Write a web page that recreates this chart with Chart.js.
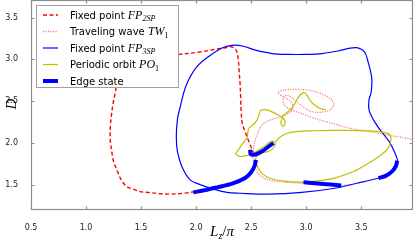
<!DOCTYPE html>
<html>
<head>
<meta charset="utf-8">
<script src="https://cdn.jsdelivr.net/npm/chart.js@4.4.0/dist/chart.umd.min.js"></script>
<style>
  html, body { margin: 0; padding: 0; background: #fff; }
</style>
</head>
<body>
<canvas id="edge_chart" width="415" height="241"></canvas>
<script>
// values, x = Lz/pi, y = D

// fixed point FP_2SP (red dashed)
const fp2spX = [1.99, 1.915, 1.78, 1.67, 1.565, 1.49, 1.43, 1.37, 1.32, 1.28, 1.25, 1.235, 1.22, 1.22, 1.23, 1.245, 1.265, 1.285, 1.32, 1.38, 1.49, 1.67, 1.84, 2.04, 2.17, 2.27, 2.32, 2.36, 2.38, 2.39, 2.40, 2.405, 2.41, 2.42, 2.445, 2.48, 2.52];
const fp2spY = [1.42, 1.405, 1.39, 1.395, 1.41, 1.42, 1.45, 1.48, 1.56, 1.68, 1.78, 1.885, 2.04, 2.18, 2.325, 2.47, 2.595, 2.75, 2.87, 2.98, 3.03, 3.05, 3.06, 3.09, 3.12, 3.14, 3.15, 3.12, 3.03, 2.87, 2.69, 2.515, 2.36, 2.23, 2.135, 2.015, 1.885];

// traveling wave TW_1 (light red dotted)
const tw1X = [3.40, 3.32, 3.17, 3.04, 2.90, 2.78, 2.67, 2.60, 2.555, 2.53, 2.515, 2.52, 2.535, 2.56, 2.595, 2.655, 2.73, 2.80, 2.865, 2.88, 2.845, 2.79, 2.745, 2.765, 2.835, 2.945, 3.055, 3.145, 3.22, 3.25, 3.22, 3.145, 3.055, 2.98, 2.91, 2.845, 2.80, 2.79, 2.82, 2.88, 2.965, 3.055, 3.165, 3.28, 3.42, 3.565, 3.72, 3.855, 4.0];
const tw1Y = [1.505, 1.49, 1.505, 1.515, 1.525, 1.535, 1.555, 1.595, 1.65, 1.74, 1.84, 1.93, 2.03, 2.12, 2.21, 2.265, 2.30, 2.33, 2.38, 2.445, 2.51, 2.555, 2.595, 2.625, 2.64, 2.64, 2.625, 2.585, 2.53, 2.46, 2.40, 2.37, 2.375, 2.425, 2.50, 2.565, 2.565, 2.49, 2.43, 2.39, 2.35, 2.305, 2.26, 2.22, 2.17, 2.14, 2.10, 2.07, 2.035];

// fixed point FP_3SP (blue)
const fp3spX = [2.04, 1.945, 1.87, 1.83, 1.82, 1.83, 1.855, 1.91, 2.005, 2.13, 2.24, 2.34, 2.42, 2.54, 2.69, 2.84, 2.99, 3.145, 3.29, 3.40, 3.47, 3.53, 3.56, 3.595, 3.59, 3.57, 3.57, 3.61, 3.67, 3.755, 3.805, 3.83, 3.80, 3.73, 3.655, 3.46, 3.26, 2.96, 2.655, 2.40, 2.28, 2.155, 2.04];
const fp3spY = [1.50, 1.56, 1.72, 1.90, 2.075, 2.28, 2.43, 2.69, 2.91, 3.05, 3.14, 3.17, 3.16, 3.11, 3.07, 3.06, 3.06, 3.07, 3.10, 3.135, 3.137, 3.09, 2.98, 2.78, 2.61, 2.515, 2.40, 2.28, 2.16, 2.015, 1.885, 1.78, 1.68, 1.61, 1.58, 1.52, 1.46, 1.41, 1.39, 1.40, 1.41, 1.45, 1.50];

// periodic orbit PO_1 (olive)
const po1X = [3.18, 3.13, 3.07, 3.03, 3.005, 2.98, 2.95, 2.92, 2.89, 2.85, 2.80, 2.78, 2.77, 2.79, 2.81, 2.79, 2.74, 2.67, 2.61, 2.58, 2.57, 2.545, 2.51, 2.48, 2.47, 2.46, 2.42, 2.39, 2.36, 2.40, 2.455, 2.51, 2.56, 2.62, 2.67, 2.70, 2.72, 2.70, 2.655, 2.60, 2.555, 2.54, 2.56, 2.60, 2.67, 2.80, 2.96, 3.13, 3.28, 3.43, 3.555, 3.66, 3.74, 3.77, 3.755, 3.67, 3.545, 3.38, 3.22, 3.055, 2.93, 2.83, 2.76, 2.72];
const po1Y = [2.40, 2.41, 2.46, 2.52, 2.575, 2.605, 2.58, 2.53, 2.46, 2.39, 2.34, 2.295, 2.24, 2.20, 2.25, 2.30, 2.34, 2.385, 2.40, 2.38, 2.325, 2.26, 2.21, 2.18, 2.13, 2.06, 1.99, 1.93, 1.87, 1.84, 1.85, 1.87, 1.91, 1.96, 2.015, 2.02, 1.99, 1.94, 1.90, 1.885, 1.855, 1.79, 1.71, 1.635, 1.58, 1.545, 1.533, 1.55, 1.59, 1.66, 1.75, 1.84, 1.93, 2.04, 2.105, 2.135, 2.146, 2.152, 2.152, 2.146, 2.14, 2.117, 2.07, 2.015];

// edge state pieces (thick blue)
const edgeAX = [1.975, 2.082, 2.20, 2.327, 2.445, 2.50, 2.532, 2.543];
const edgeAY = [1.412, 1.438, 1.474, 1.515, 1.583, 1.652, 1.73, 1.80];
const edgeBX = [2.491, 2.495, 2.545, 2.60, 2.655, 2.703];
const edgeBY = [1.92, 1.867, 1.867, 1.902, 1.956, 2.0];
const edgeCX = [2.975, 3.127, 3.318];
const edgeCY = [1.531, 1.515, 1.492];
const edgeDX = [3.657, 3.727, 3.782, 3.814, 3.827];
const edgeDY = [1.581, 1.611, 1.664, 1.724, 1.789];

const xTicks = [0.5, 1.0, 1.5, 2.0, 2.5, 3.0, 3.5];
const xTickLabels = ['0.5', '1.0', '1.5', '2.0', '2.5', '3.0', '3.5'];
const yTicks = [1.5, 2.0, 2.5, 3.0, 3.5];
const yTickLabels = ['1.5', '2.0', '2.5', '3.0', '3.5'];

const seriesNames = ['Fixed point', 'Traveling wave', 'Fixed point', 'Periodic orbit', 'Edge state'];
const seriesMath = ['FP', 'TW', 'FP', 'PO', ''];
const seriesSub = ['2SP', '1', '3SP', '1', ''];

const pts = (xs, ys) => xs.map((x, i) => ({x: x, y: ys[i]}));
const withGaps = function(pieces) {
    let out = [];
    pieces.forEach(function(p, k) {
        if (k) out.push({x: null, y: null});
        out = out.concat(pts(p[0], p[1]));
    });
    return out;
};

const serif = '"Liberation Serif", "DejaVu Serif", serif';

function drawParts(ctx, parts, x, y, align) {
    let w = 0;
    parts.forEach(function(p) { ctx.font = p.f; p.w = ctx.measureText(p.t).width; w += p.w; });
    let cx = align === 'center' ? x - w / 2 : x;
    parts.forEach(function(p) {
        ctx.font = p.f;
        ctx.fillText(p.t, cx, y + (p.dy || 0));
        cx += p.w;
    });
}

const frame_plugin = {
    id: 'frame_plugin',
    afterDatasetsDraw(chart) {
        const ctx = chart.ctx;
        const a = chart.chartArea;
        const sx = chart.scales.x, sy = chart.scales.y;
        ctx.save();
        ctx.strokeStyle = '#8c8c8c';
        ctx.lineWidth = 1.2;
        ctx.strokeRect(a.left + 0.5, a.top + 0.5, a.right - a.left - 1, a.bottom - a.top - 1);
        ctx.beginPath();
        xTicks.forEach(function(v) {
            const px = Math.round(sx.getPixelForValue(v)) + 0.5;
            ctx.moveTo(px, a.bottom); ctx.lineTo(px, a.bottom - 3.5);
            ctx.moveTo(px, a.top); ctx.lineTo(px, a.top + 3.5);
        });
        yTicks.forEach(function(v) {
            const py = Math.round(sy.getPixelForValue(v)) + 0.5;
            ctx.moveTo(a.left, py); ctx.lineTo(a.left + 3.5, py);
            ctx.moveTo(a.right, py); ctx.lineTo(a.right - 3.5, py);
        });
        ctx.stroke();

        // axis titles
        ctx.fillStyle = '#000';
        ctx.textBaseline = 'alphabetic';
        drawParts(ctx, [
            {t: 'L', f: 'italic 15px ' + serif},
            {t: 'z', f: 'italic 10px ' + serif, dy: 3},
            {t: '/', f: '15px ' + serif},
            {t: '\u03c0', f: 'italic 15px ' + serif}
        ], 222, 236, 'center');
        ctx.translate(16, 104);
        ctx.rotate(-Math.PI / 2);
        drawParts(ctx, [{t: 'D', f: 'italic 15px ' + serif}], 0, 0, 'center');
        ctx.restore();
    },
    afterDraw(chart) {
        const ctx = chart.ctx;
        ctx.save();
        ctx.fillStyle = '#fff';
        ctx.fillRect(36, 5, 142, 82);
        ctx.strokeStyle = '#a0a0a0';
        ctx.lineWidth = 1;
        ctx.strokeRect(36.5, 5.5, 142, 82);
        chart.data.datasets.forEach(function(ds, i) {
            const yy = 15 + i * 16.5;
            ctx.beginPath();
            ctx.strokeStyle = ds.borderColor;
            ctx.lineWidth = ds.borderWidth;
            ctx.setLineDash(ds.borderDash || []);
            ctx.moveTo(43, yy);
            ctx.lineTo(58, yy);
            ctx.stroke();
            ctx.setLineDash([]);
            ctx.fillStyle = '#000';
            const parts = [{t: seriesNames[i] + (seriesMath[i] ? ' ' : ''), f: '10px "DejaVu Sans"'}];
            if (seriesMath[i]) {
                parts.push({t: seriesMath[i], f: 'italic 12px ' + serif});
                const subItalic = /[A-Z]/.test(seriesSub[i]);
                parts.push({t: seriesSub[i], f: (subItalic ? 'italic ' : '') + '8px ' + serif, dy: 2.5});
            }
            drawParts(ctx, parts, 70, yy + 3.5, 'left');
        });
        ctx.restore();
    }
};

const base = {showLine: true, pointRadius: 0, pointHoverRadius: 0, fill: false, spanGaps: false};

const edge_ctx = document.getElementById('edge_chart').getContext('2d');
const edgeChart = new Chart(edge_ctx, {
    type: 'scatter',
    data: {
        datasets: [
            Object.assign({}, base, {label: seriesNames[0], data: pts(fp2spX, fp2spY), borderColor: '#ff0000', borderWidth: 1.4, borderDash: [4, 2.5], tension: 0.35, order: 4}),
            Object.assign({}, base, {label: seriesNames[1], data: pts(tw1X, tw1Y), borderColor: 'rgba(255,40,40,0.6)', borderWidth: 1.3, borderDash: [1.2, 1.3], tension: 0.35, order: 3}),
            Object.assign({}, base, {label: seriesNames[2], data: pts(fp3spX, fp3spY), borderColor: '#0000ff', borderWidth: 1.2, tension: 0.35, order: 2}),
            Object.assign({}, base, {label: seriesNames[3], data: pts(po1X, po1Y), borderColor: '#bfbf00', borderWidth: 1.2, tension: 0.3, order: 1}),
            Object.assign({}, base, {label: seriesNames[4], data: withGaps([[edgeAX, edgeAY], [edgeBX, edgeBY], [edgeCX, edgeCY], [edgeDX, edgeDY]]), borderColor: '#0000ff', borderWidth: 4, borderCapStyle: 'butt', tension: 0.3, order: 0})
        ]
    },
    options: {
        responsive: false,
        animation: false,
        devicePixelRatio: 1,
        events: [],
        layout: {padding: {top: 0, right: 2, left: 0, bottom: 0}},
        plugins: {
            legend: {display: false},
            tooltip: {enabled: false}
        },
        scales: {
            x: {
                type: 'linear', min: 0.5, max: 3.97, bounds: 'data',
                grid: {display: false}, border: {display: false},
                ticks: {
                    color: '#222', padding: 5, maxRotation: 0, autoSkip: false,
                    font: {family: 'DejaVu Sans', size: 8},
                    callback: (v, i) => xTickLabels[i]
                },
                afterBuildTicks: s => { s.ticks = xTicks.map(v => ({value: v})); },
                afterFit: s => { s.height = 31; s.paddingLeft = 0; s.paddingRight = 0; }
            },
            y: {
                type: 'linear', min: 1.2, max: 3.71, bounds: 'data',
                grid: {display: false}, border: {display: false},
                ticks: {
                    color: '#222', padding: 5, autoSkip: false,
                    font: {family: 'DejaVu Sans', size: 8},
                    callback: (v, i) => yTickLabels[i]
                },
                afterBuildTicks: s => { s.ticks = yTicks.map(v => ({value: v})); },
                afterFit: s => { s.width = 31; s.paddingTop = 0; s.paddingBottom = 0; }
            }
        }
    },
    plugins: [frame_plugin]
});
</script>
</body>
</html>
